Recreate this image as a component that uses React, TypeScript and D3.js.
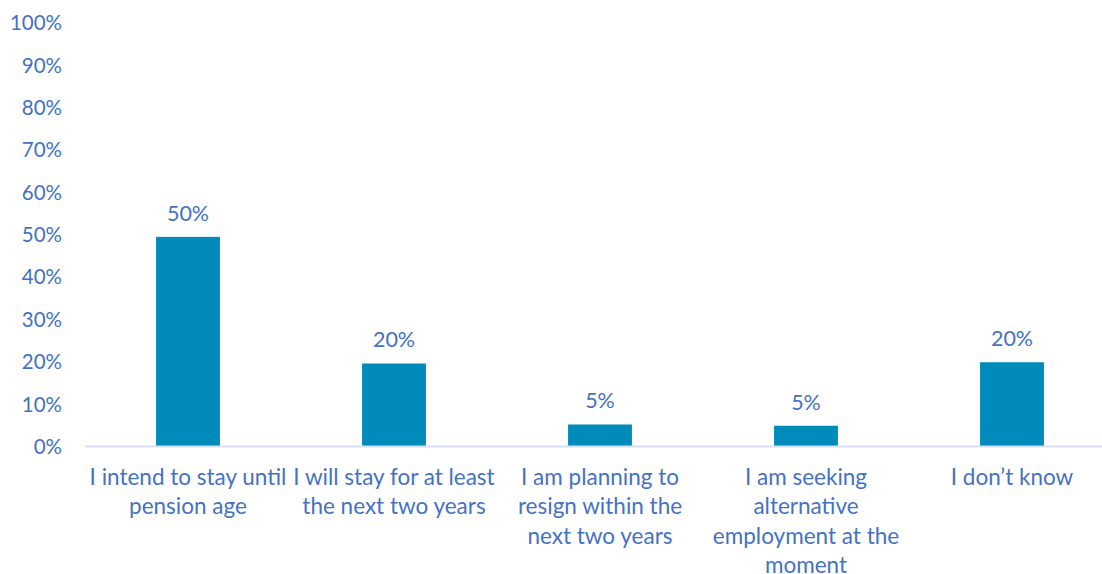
import React from "react";
import * as d3 from "d3";

const categories = [
  "I intend to stay until pension age",
  "I will stay for at least the next two years",
  "I am planning to resign within the next two years",
  "I am seeking alternative employment at the moment",
  "I don’t know",
];
const categoryLines = [
  ["I intend to stay until", "pension age"],
  ["I will stay for at least", "the next two years"],
  ["I am planning to", "resign within the", "next two years"],
  ["I am seeking", "alternative", "employment at the", "moment"],
  ["I don’t know"],
];
const values = [49.5, 19.6, 5.2, 4.9, 19.9];
const dataLabels = ["50%", "20%", "5%", "5%", "20%"];
const yTicks = [0, 10, 20, 30, 40, 50, 60, 70, 80, 90, 100];

const W = 1102;
const H = 574;
const FONT = "Lato, 'Open Sans', sans-serif";
const TEXT = "#4472C4";
const BAR = "#008BBA";

export default function App() {
  const x = d3
    .scaleBand<string>()
    .domain(categories)
    .range([85, 1115])
    .paddingInner(0.69)
    .paddingOuter(0.345);
  const y = d3.scaleLinear().domain([0, 100]).range([446.5, 23]);

  return (
    <svg
      width={W}
      height={H}
      style={{ position: "absolute", left: 0, top: 0, background: "#fff" }}
      fontFamily={FONT}
    >
      {yTicks.map((t) => (
        <text
          key={t}
          x={62}
          y={y(t)}
          dy="0.36em"
          textAnchor="end"
          fontSize={20.5}
          fill={TEXT}
        >
          {t}%
        </text>
      ))}
      {categories.map((c, i) => {
        const bx = x(c)!;
        const by = y(values[i]);
        return (
          <g key={c}>
            <rect
              x={bx}
              y={by}
              width={x.bandwidth()}
              height={y(0) - by}
              fill={BAR}
            />
            <text
              x={bx + x.bandwidth() / 2}
              y={by - 16}
              textAnchor="middle"
              fontSize={21.5}
              fill={TEXT}
            >
              {dataLabels[i]}
            </text>
          </g>
        );
      })}
      <line
        x1={85}
        x2={W}
        y1={y(0)}
        y2={y(0)}
        stroke="#D9DFF2"
        strokeWidth={2}
      />
      {categories.map((c, i) => {
        const cx = x(c)! + x.bandwidth() / 2;
        return (
          <text key={c} textAnchor="middle" fontSize={22.5} fill={TEXT}>
            {categoryLines[i].map((ln, j) => (
              <tspan key={j} x={cx} y={485 + j * 29.3}>
                {ln}
              </tspan>
            ))}
          </text>
        );
      })}
    </svg>
  );
}
